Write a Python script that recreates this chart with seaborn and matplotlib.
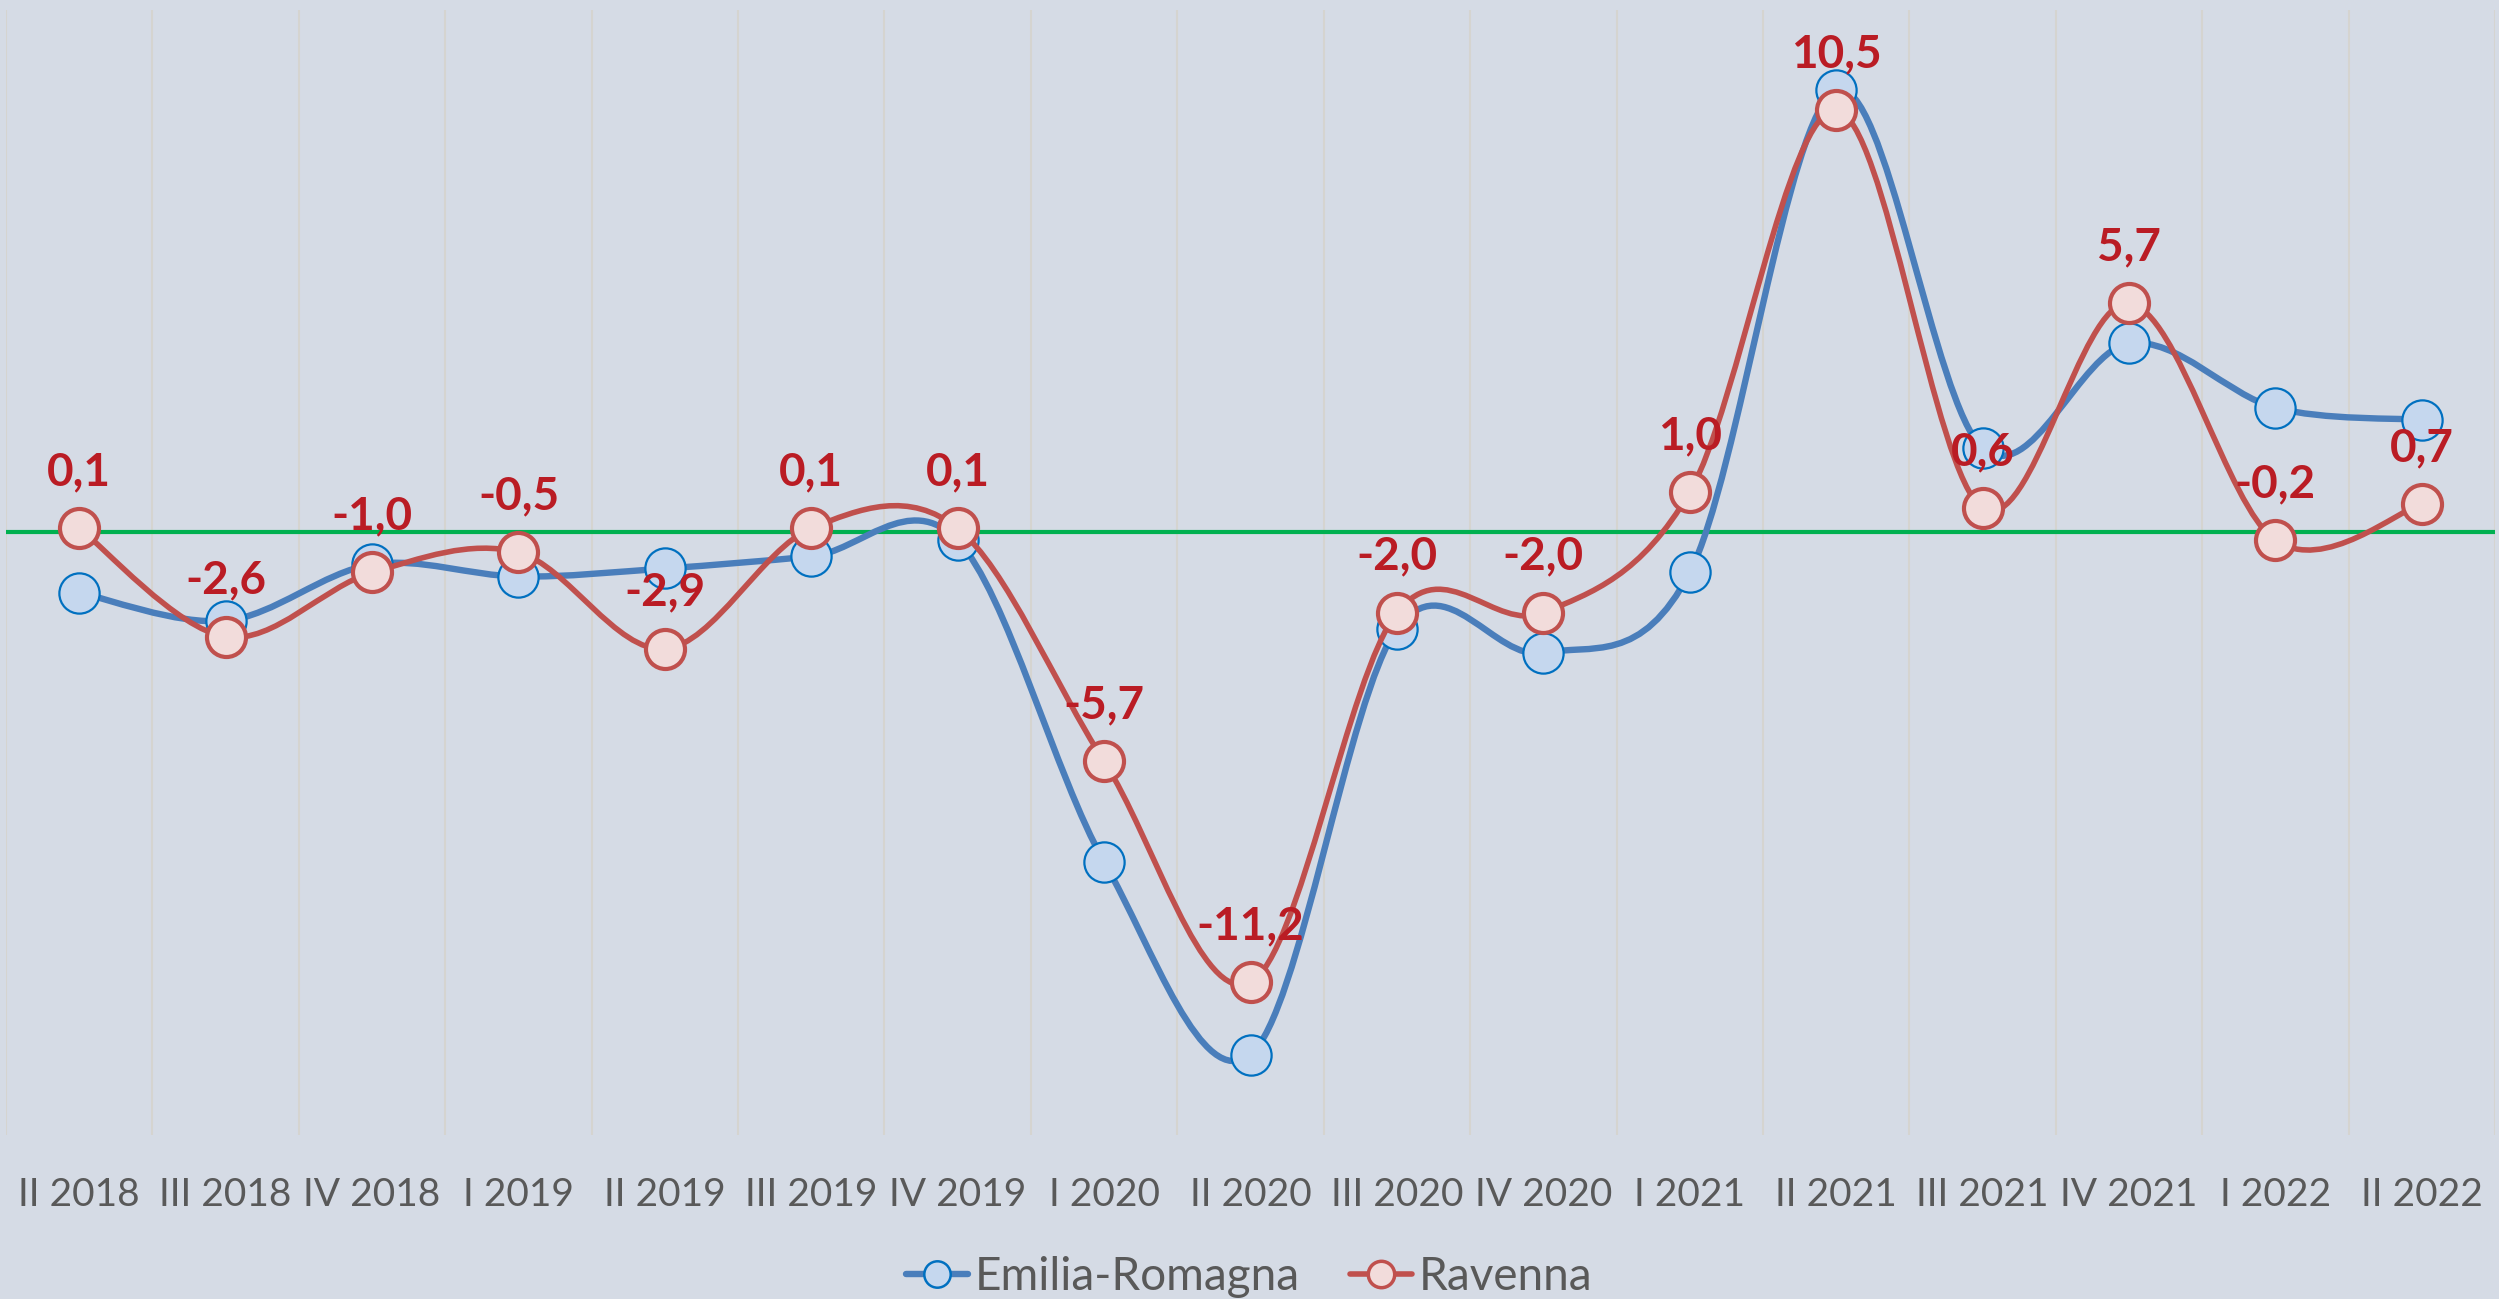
"""
Quarterly change: Emilia-Romagna vs Ravenna (smoothed lines, Excel look)
"""

import numpy as np
import matplotlib
matplotlib.use("Agg")
import matplotlib.pyplot as plt
import seaborn as sns
from matplotlib.path import Path
from matplotlib.patches import PathPatch
from matplotlib.lines import Line2D

# Data
quarters = ['II 2018', 'III 2018', 'IV 2018', 'I 2019', 'II 2019', 'III 2019',
            'IV 2019', 'I 2020', 'II 2020', 'III 2020', 'IV 2020', 'I 2021',
            'II 2021', 'III 2021', 'IV 2021', 'I 2022', 'II 2022']
emilia = [-1.5, -2.2, -0.8, -1.1, -0.9, -0.6, -0.2, -8.2, -13.0, -2.4, -3.0,
          -1.0, 11.0, 2.1, 4.7, 3.1, 2.8]
ravenna = [0.1, -2.6, -1.0, -0.5, -2.9, 0.1, 0.1, -5.7, -11.2, -2.0, -2.0,
           1.0, 10.5, 0.6, 5.7, -0.2, 0.7]

BG = '#D5DBE5'
BLUE_LINE, BLUE_FILL, BLUE_EDGE = '#4A7EBB', '#C5D7EE', '#0070C0'
RED_LINE, RED_FILL, RED_EDGE = '#C0504D', '#F2DCDB', '#C0504D'
LABEL_RED = '#BA1C24'
TEXT_GREY = '#595959'

sns.set_theme(style='white')
plt.rcParams['font.family'] = ['Lato', 'DejaVu Sans']


def smooth_path(xs, ys):
    """Excel-like smoothed line: cubic Bezier with 1/6 tangent control points"""
    pts = np.column_stack([xs, ys]).astype(float)
    n = len(pts)
    verts = [pts[0]]
    codes = [Path.MOVETO]
    for i in range(n - 1):
        p_prev = pts[max(i - 1, 0)]
        p_next2 = pts[min(i + 2, n - 1)]
        c1 = pts[i] + (pts[i + 1] - p_prev) / 6
        c2 = pts[i + 1] - (p_next2 - pts[i]) / 6
        verts += [c1, c2, pts[i + 1]]
        codes += [Path.CURVE4] * 3
    return Path(verts, codes)


fig = plt.figure(figsize=(24.99, 12.99), dpi=100, facecolor=BG)
ax = fig.add_axes([6 / 2499, 1 - 1135 / 1299, (2495 - 6) / 2499, (1135 - 10) / 1299])
ax.set_facecolor(BG)

x = np.arange(len(quarters))

# vertical separators between categories
for b in np.arange(-0.5, len(quarters), 1.0):
    ax.axvline(b, color='#D5D4D0', lw=1.5, zorder=0)

# zero line
ax.axhline(0, color='#00B050', lw=3, zorder=1)

# Emilia-Romagna
ax.add_patch(PathPatch(smooth_path(x, emilia), fill=False, edgecolor=BLUE_LINE,
                       lw=4.6, capstyle='round', joinstyle='round', zorder=2))
sns.scatterplot(x=x, y=emilia, ax=ax, s=840, color=BLUE_FILL, edgecolor=BLUE_EDGE,
                linewidth=1.6, zorder=3, legend=False)

# Ravenna
ax.add_patch(PathPatch(smooth_path(x, ravenna), fill=False, edgecolor=RED_LINE,
                       lw=4.0, capstyle='round', joinstyle='round', zorder=4))
sns.scatterplot(x=x, y=ravenna, ax=ax, s=790, color=RED_FILL, edgecolor=RED_EDGE,
                linewidth=3, zorder=5, legend=False)

# data labels (Ravenna)
for xi, v in zip(x, ravenna):
    ax.annotate(f"{v:.1f}".replace('.', ','), (xi, v), xytext=(0, 31),
                textcoords='offset points', ha='center', va='baseline',
                fontsize=33, fontweight='bold', color=LABEL_RED, zorder=6)

ax.set_xlim(-0.5, len(quarters) - 0.5)
ax.set_ylim(-15, 13)
ax.set_xticks(x)
ax.set_xticklabels(quarters, fontsize=28, color=TEXT_GREY)
ax.set_yticks([])
ax.tick_params(axis='x', length=0, pad=30)
for s in ax.spines.values():
    s.set_visible(False)

handles = [
    Line2D([], [], color=BLUE_LINE, lw=4.6, marker='o', markersize=19,
           markerfacecolor=BLUE_FILL, markeredgecolor=BLUE_EDGE, markeredgewidth=1.8),
    Line2D([], [], color=RED_LINE, lw=4.0, marker='o', markersize=19,
           markerfacecolor=RED_FILL, markeredgecolor=RED_EDGE, markeredgewidth=2.5),
]
leg = fig.legend(handles, ['Emilia-Romagna', 'Ravenna'], loc='center',
                 bbox_to_anchor=(0.5, 0.017), ncol=2, frameon=False, fontsize=33,
                 handlelength=1.35, handletextpad=0.15, columnspacing=1.1)
for t in leg.get_texts():
    t.set_color(TEXT_GREY)

plt.savefig('out.png', dpi=100, facecolor=BG)
plt.close()
